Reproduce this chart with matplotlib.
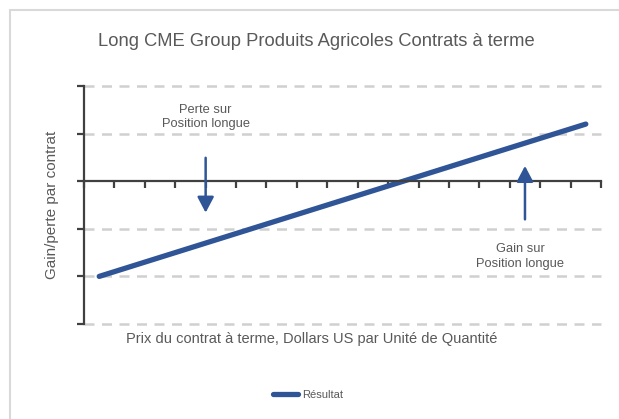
import numpy as np
import matplotlib.pyplot as plt
from matplotlib.patches import Rectangle

plt.rcParams['font.family'] = ['Liberation Sans', 'DejaVu Sans']

# data
prices = np.arange(17)
result = [-2.0, -1.8, -1.6, -1.4, -1.2, -1.0, -0.8, -0.6, -0.4, -0.2,
          0.0, 0.2, 0.4, 0.6, 0.8, 1.0, 1.2]
y_ticks = [-3, -2, -1, 0, 1, 2]

title = "Long CME Group Produits Agricoles Contrats à terme"
xlabel = "Prix du contrat à terme, Dollars US par Unité de Quantité"
ylabel = "Gain/perte par contrat"
loss_txt = "Perte sur\nPosition longue"
gain_txt = "Gain sur\nPosition longue"

blue = "#2F5597"
grey = "#595959"
axis_col = "#404040"

fig = plt.figure(figsize=(6.19, 4.19), dpi=100)
ax = fig.add_axes([84 / 619, 1 - 324 / 419, (601 - 84) / 619, (324 - 86) / 419])

# outer frame
fig.patches.append(Rectangle((10 / 619, -0.1), 1.1, 1 - 10 / 419 + 0.1,
                             transform=fig.transFigure, fill=False,
                             edgecolor="#D9D9D9", lw=1.5))

ax.plot(prices, result, color=blue, lw=3.8, solid_capstyle='round', label="Résultat")

ax.set_xlim(-0.5, 16.5)
ax.set_ylim(-3, 2)
for y in y_ticks:
    if y != 0:
        ax.axhline(y, color="#D0D0D0", lw=1.8, ls=(0, (4, 3)), zorder=0, clip_on=False)

ax.spines['top'].set_visible(False)
ax.spines['right'].set_visible(False)
ax.spines['bottom'].set_position(('data', 0))
for s in ['left', 'bottom']:
    ax.spines[s].set_color(axis_col)
    ax.spines[s].set_linewidth(1.6)

ax.set_yticks(y_ticks)
ax.set_yticklabels([])
ax.set_xticks(np.arange(-0.5, 17, 1))
ax.set_xticklabels([])
ax.tick_params(axis='y', direction='out', length=5, width=1.6, color=axis_col)
ax.tick_params(axis='x', direction='out', length=5, width=1.6, color=axis_col)

# annotations
ax.annotate("", xy=(3.5, -0.72), xytext=(3.5, 0.55),
            arrowprops=dict(arrowstyle="-|>,head_length=0.95,head_width=0.5",
                            color=blue, lw=1.8))
ax.annotate("", xy=(14.0, 0.38), xytext=(14.0, -0.86),
            arrowprops=dict(arrowstyle="-|>,head_length=0.95,head_width=0.5",
                            color=blue, lw=1.8))
ax.text(3.5, 1.35, loss_txt, ha='center', va='center', fontsize=9.3, color=grey,
        linespacing=1.25)
ax.text(13.85, -1.58, gain_txt, ha='center', va='center', fontsize=9.3, color=grey,
        linespacing=1.25)

fig.text(316 / 619, 1 - 42 / 419, title, ha='center', va='center',
         fontsize=13.2, color=grey)
fig.text(312 / 619, 1 - 339 / 419, xlabel, ha='center', va='center',
         fontsize=10.5, color=grey)
fig.text(52 / 619, 1 - 205 / 419, ylabel, ha='center', va='center',
         fontsize=11, color=grey, rotation=90)

leg = fig.legend(loc='center', bbox_to_anchor=(308 / 619, 1 - 395 / 419),
                 frameon=False, fontsize=8, handlelength=2.3, handletextpad=0.4)
for t in leg.get_texts():
    t.set_color(grey)

fig.savefig("out.png", dpi=100)
